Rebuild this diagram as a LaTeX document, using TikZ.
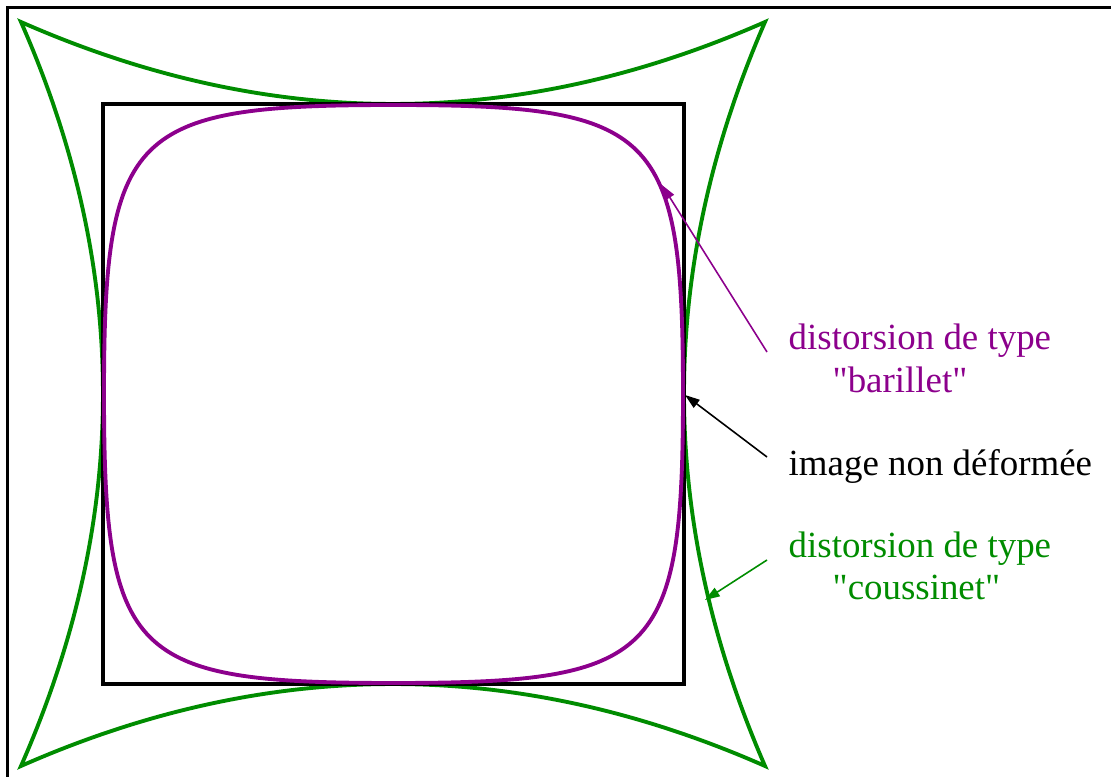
\documentclass[tikz,border=0pt]{standalone}
\usepackage{fontspec}
\setmainfont{Liberation Serif}
\usetikzlibrary{arrows.meta}
\definecolor{coussin}{RGB}{0,140,0}
\definecolor{baril}{RGB}{140,0,140}
\tikzset{
  lbl/.style={anchor=base west, inner sep=0pt, font=\fontsize{10.5pt}{12pt}\selectfont},
  fleche/.style={line width=0.45pt, -{Triangle[length=4.2pt, width=2.8pt]}},
  courbe/.style={line width=1.1pt}
}

\begin{document}
\begin{tikzpicture}[>=Triangle]
  \useasboundingbox (0,0) rectangle (11.11,-7.77);
  \draw[line width=0.6pt] (0.075,-8.2) -- (0.075,-0.075) -- (11.5,-0.075);
  % coussinet
  \draw[courbe, coussin] (0.21,-0.22) .. controls (2.69,-1.313) and (5.17,-1.313) .. (7.65,-0.22)
    .. controls (6.57,-2.70) and (6.57,-5.18) .. (7.65,-7.66)
    .. controls (5.17,-6.567) and (2.69,-6.567) .. (0.21,-7.66)
    .. controls (1.303,-5.18) and (1.303,-2.70) .. cycle;
  % image non deformee
  \draw[line width=1.3pt] (1.03,-1.04) rectangle (6.84,-6.84);
  % barillet
  \draw[courbe, baril] (3.935,-1.05) .. controls (6.56,-1.05) and (6.83,-1.30) .. (6.83,-3.94)
    .. controls (6.83,-6.58) and (6.56,-6.83) .. (3.935,-6.83)
    .. controls (1.31,-6.83) and (1.04,-6.58) .. (1.04,-3.94)
    .. controls (1.04,-1.30) and (1.31,-1.05) .. cycle;
  %
  \coordinate (pbar) at (6.62,-1.85);
  \coordinate (pimg) at (6.85,-3.95);
  \coordinate (pcous) at (7.05,-6.00);
  %
  \node[lbl, baril] (barA) at (7.88,-3.50) {distorsion de type};
  \node[lbl, baril] (barB) at (8.32,-3.93) {\textquotedbl barillet\textquotedbl};
  \node[lbl] (img) at (7.88,-4.76) {image non déformée};
  \node[lbl, coussin] (cousA) at (7.88,-5.58) {distorsion de type};
  \node[lbl, coussin] (cousB) at (8.32,-6.00) {\textquotedbl coussinet\textquotedbl};
  %
  \draw[fleche, baril] ([xshift=-2.1mm, yshift=-0.2mm]barA.base west) -- (pbar);
  \draw[fleche] ([xshift=-2.1mm, yshift=1.9mm]img.base west) -- (pimg);
  \draw[fleche, coussin] ([xshift=-2.1mm, yshift=-0.2mm]cousA.base west) -- (pcous);
\end{tikzpicture}
\end{document}
